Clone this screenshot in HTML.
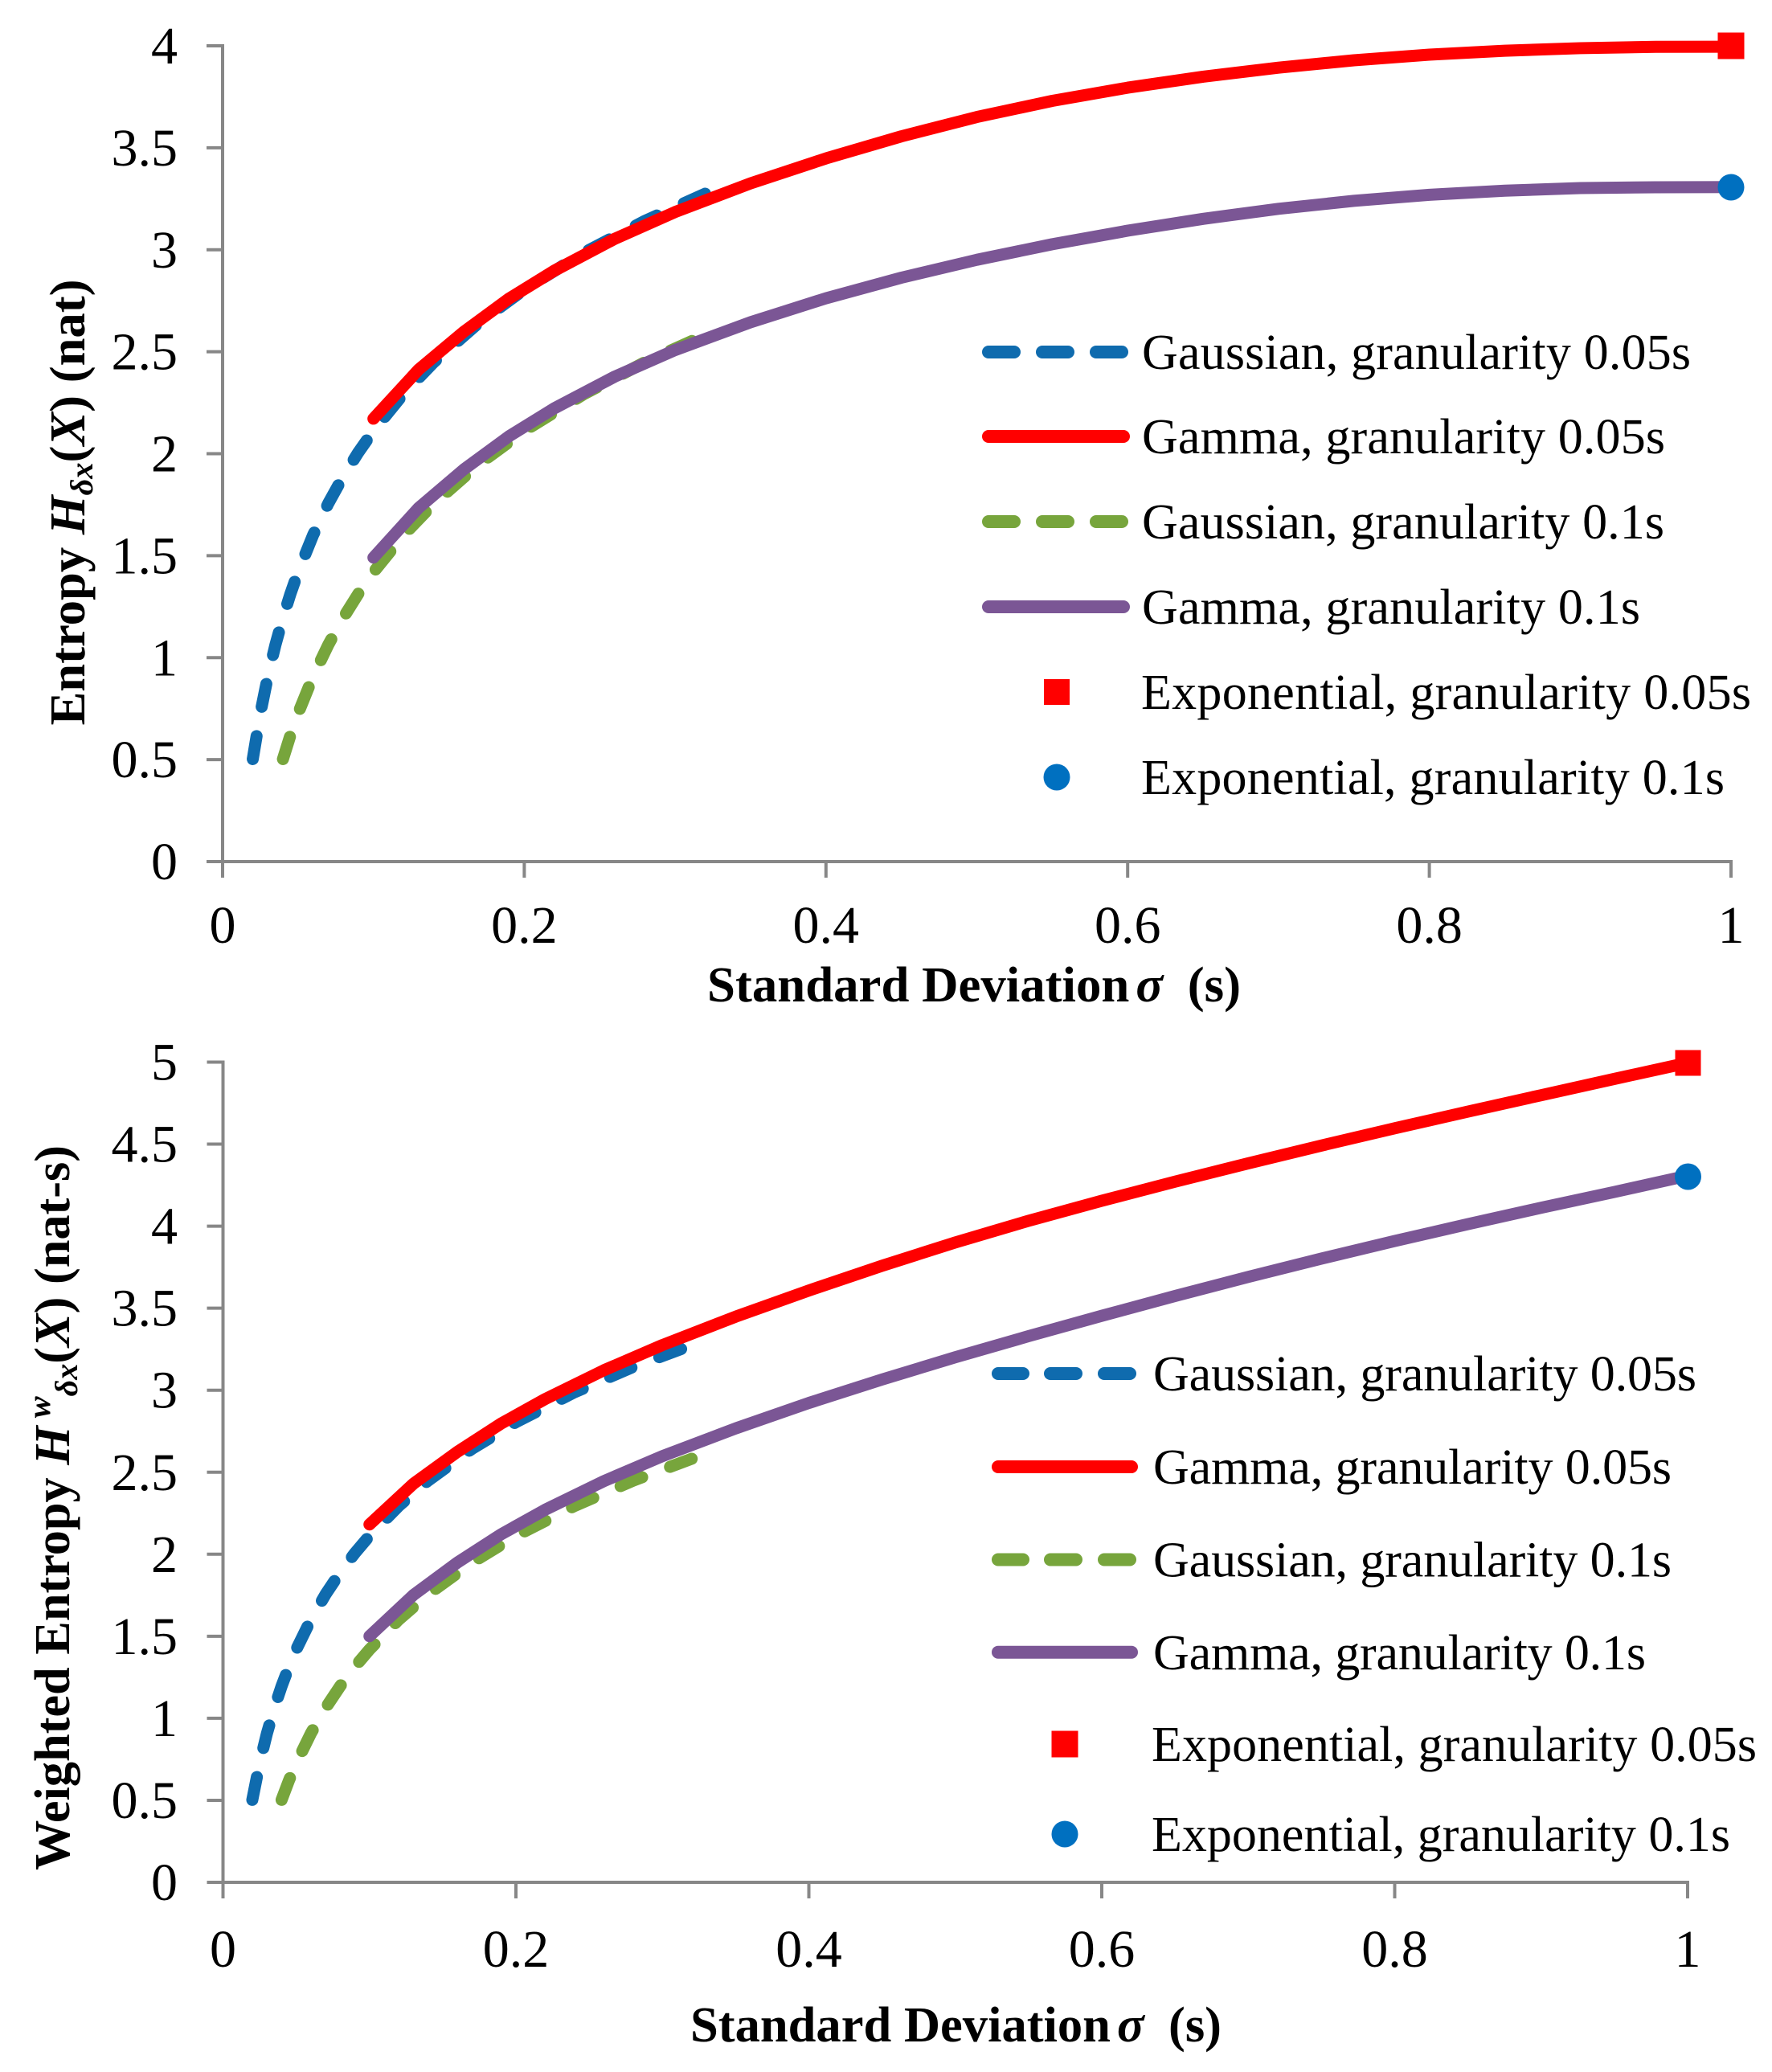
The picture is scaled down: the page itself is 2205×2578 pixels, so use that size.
<!DOCTYPE html>
<html>
<head>
<meta charset="utf-8">
<style>
html,body{margin:0;padding:0;background:#fff;}
svg{display:block;}
text{font-family:"Liberation Serif","DejaVu Serif",serif;fill:#000;}
.tk{font-size:66px;}
.lg{font-size:62px;}
.ti{font-size:62px;font-weight:bold;}
</style>
</head>
<body>
<svg xmlns="http://www.w3.org/2000/svg" width="2205" height="2578" viewBox="0 0 2205 2578">
<rect x="0" y="0" width="2205" height="2578" fill="#fff"/>

<!-- ================= TOP CHART ================= -->
<g stroke="#878787" stroke-width="4" fill="none">
  <line x1="277" y1="55" x2="277" y2="1074"/>
  <line x1="257" y1="1072" x2="2156" y2="1072"/>
  <line x1="257" y1="57" x2="277" y2="57"/>
  <line x1="257" y1="183.9" x2="277" y2="183.9"/>
  <line x1="257" y1="310.75" x2="277" y2="310.75"/>
  <line x1="257" y1="437.6" x2="277" y2="437.6"/>
  <line x1="257" y1="564.5" x2="277" y2="564.5"/>
  <line x1="257" y1="691.4" x2="277" y2="691.4"/>
  <line x1="257" y1="818.25" x2="277" y2="818.25"/>
  <line x1="257" y1="945.1" x2="277" y2="945.1"/>
  <line x1="277" y1="1072" x2="277" y2="1092"/>
  <line x1="652.4" y1="1072" x2="652.4" y2="1092"/>
  <line x1="1027.8" y1="1072" x2="1027.8" y2="1092"/>
  <line x1="1403.2" y1="1072" x2="1403.2" y2="1092"/>
  <line x1="1778.6" y1="1072" x2="1778.6" y2="1092"/>
  <line x1="2154" y1="1072" x2="2154" y2="1092"/>
</g>
<g class="tk" text-anchor="end">
  <text x="221" y="1094">0</text>
  <text x="221" y="967.1">0.5</text>
  <text x="221" y="840.25">1</text>
  <text x="221" y="713.4">1.5</text>
  <text x="221" y="586.5">2</text>
  <text x="221" y="459.6">2.5</text>
  <text x="221" y="332.75">3</text>
  <text x="221" y="205.9">3.5</text>
  <text x="221" y="79">4</text>
</g>
<g class="tk" text-anchor="middle">
  <text x="277" y="1173">0</text>
  <text x="652.4" y="1173">0.2</text>
  <text x="1027.8" y="1173">0.4</text>
  <text x="1403.2" y="1173">0.6</text>
  <text x="1778.6" y="1173">0.8</text>
  <text x="2154" y="1173">1</text>
</g>
<text class="ti" x="880" y="1246" textLength="664" lengthAdjust="spacingAndGlyphs">Standard Deviation<tspan font-style="italic" dx="8">σ</tspan><tspan dx="30">(s)</tspan></text>
<text class="ti" transform="translate(105,625) rotate(-90)" text-anchor="middle" textLength="555" lengthAdjust="spacingAndGlyphs">Entropy <tspan font-style="italic">H</tspan><tspan font-style="italic" font-size="40" dy="10">δx</tspan><tspan dy="-10">(</tspan><tspan font-style="italic">X</tspan>) (nat)</text>

<!-- top series -->
<g fill="none" stroke-linecap="round" stroke-linejoin="round">
  <polyline stroke="#0f6bae" stroke-width="15" stroke-dasharray="29 37" points="314.54,944.45 323.93,887.83 333.31,841.57 342.70,802.45 352.08,768.57 361.47,738.68 370.85,711.94 389.62,665.68 408.39,626.56 427.16,592.68 445.93,562.79 464.70,536.06 502.24,489.79 539.78,450.68 596.09,401.41 652.40,360.17 727.48,313.91 802.56,274.79 877.64,240.91"/>
  <polyline stroke="#ff0000" stroke-width="15" points="464.70,520.92 521.01,459.75 577.32,412.63 633.63,371.35 689.94,336.68 765.02,297.12 840.10,263.80 933.95,228.09 1027.80,197.10 1121.65,169.62 1215.50,145.60 1309.35,125.48 1403.20,109.10 1497.05,95.41 1590.90,84.19 1684.75,75.02 1778.60,68.01 1872.45,63.10 1966.30,59.94 2060.15,58.22 2154,58.08"/>
  <polyline stroke="#77a53c" stroke-width="15" stroke-dasharray="29 37" points="352.08,944.45 361.47,914.57 370.85,887.83 389.62,841.57 408.39,802.45 427.16,768.57 445.93,738.68 464.70,711.94 502.24,665.68 539.78,626.56 596.09,577.30 652.40,536.06 727.48,489.79 802.56,450.68 877.64,416.79"/>
  <polyline stroke="#7b5695" stroke-width="15" points="464.70,693.76 521.01,631.83 577.32,583.95 633.63,542.66 689.94,507.92 765.02,468.57 840.10,435.55 933.95,400.93 1027.80,371.09 1121.65,345.51 1215.50,323.26 1309.35,303.90 1403.20,287.02 1497.05,272.31 1590.90,259.82 1684.75,249.89 1778.60,242.38 1872.45,237.21 1966.30,234.05 2060.15,232.96 2154,232.70"/>
</g>
<rect x="2137.5" y="40.5" width="33" height="33" fill="#ff0000"/>
<circle cx="2154" cy="233" r="16.5" fill="#0070c0"/>

<!-- top legend -->
<g fill="none" stroke-linecap="round" stroke-width="16">
  <line x1="1230" y1="438" x2="1262" y2="438" stroke="#0f6bae"/>
  <line x1="1297" y1="438" x2="1329" y2="438" stroke="#0f6bae"/>
  <line x1="1364" y1="438" x2="1396" y2="438" stroke="#0f6bae"/>
  <line x1="1230" y1="543" x2="1398" y2="543" stroke="#ff0000"/>
  <line x1="1230" y1="649" x2="1262" y2="649" stroke="#77a53c"/>
  <line x1="1297" y1="649" x2="1329" y2="649" stroke="#77a53c"/>
  <line x1="1364" y1="649" x2="1396" y2="649" stroke="#77a53c"/>
  <line x1="1230" y1="755" x2="1398" y2="755" stroke="#7b5695"/>
</g>
<rect x="1299" y="845" width="32" height="32" fill="#ff0000"/>
<circle cx="1315" cy="967" r="16.5" fill="#0070c0"/>
<g class="lg">
  <text x="1421" y="459" textLength="683" lengthAdjust="spacing">Gaussian, granularity 0.05s</text>
  <text x="1421" y="564" textLength="651" lengthAdjust="spacing">Gamma, granularity 0.05s</text>
  <text x="1421" y="670" textLength="650" lengthAdjust="spacing">Gaussian, granularity 0.1s</text>
  <text x="1421" y="776" textLength="620" lengthAdjust="spacing">Gamma, granularity 0.1s</text>
  <text x="1420" y="882" textLength="759" lengthAdjust="spacing">Exponential, granularity 0.05s</text>
  <text x="1420" y="988" textLength="726" lengthAdjust="spacing">Exponential, granularity 0.1s</text>
</g>

<!-- ================= BOTTOM CHART ================= -->
<g stroke="#878787" stroke-width="4" fill="none">
  <line x1="277.5" y1="1319.5" x2="277.5" y2="2344"/>
  <line x1="257.5" y1="2342" x2="2102" y2="2342"/>
  <line x1="257.5" y1="1321.5" x2="277.5" y2="1321.5"/>
  <line x1="257.5" y1="1423.55" x2="277.5" y2="1423.55"/>
  <line x1="257.5" y1="1525.6" x2="277.5" y2="1525.6"/>
  <line x1="257.5" y1="1627.65" x2="277.5" y2="1627.65"/>
  <line x1="257.5" y1="1729.7" x2="277.5" y2="1729.7"/>
  <line x1="257.5" y1="1831.75" x2="277.5" y2="1831.75"/>
  <line x1="257.5" y1="1933.8" x2="277.5" y2="1933.8"/>
  <line x1="257.5" y1="2035.85" x2="277.5" y2="2035.85"/>
  <line x1="257.5" y1="2137.9" x2="277.5" y2="2137.9"/>
  <line x1="257.5" y1="2239.95" x2="277.5" y2="2239.95"/>
  <line x1="277.5" y1="2342" x2="277.5" y2="2362"/>
  <line x1="642" y1="2342" x2="642" y2="2362"/>
  <line x1="1006.5" y1="2342" x2="1006.5" y2="2362"/>
  <line x1="1371" y1="2342" x2="1371" y2="2362"/>
  <line x1="1735.5" y1="2342" x2="1735.5" y2="2362"/>
  <line x1="2100" y1="2342" x2="2100" y2="2362"/>
</g>
<g class="tk" text-anchor="end">
  <text x="221" y="2364">0</text>
  <text x="221" y="2261.95">0.5</text>
  <text x="221" y="2159.9">1</text>
  <text x="221" y="2057.85">1.5</text>
  <text x="221" y="1955.8">2</text>
  <text x="221" y="1853.75">2.5</text>
  <text x="221" y="1751.7">3</text>
  <text x="221" y="1649.65">3.5</text>
  <text x="221" y="1547.6">4</text>
  <text x="221" y="1445.55">4.5</text>
  <text x="221" y="1343.5">5</text>
</g>
<g class="tk" text-anchor="middle">
  <text x="277.5" y="2447">0</text>
  <text x="642" y="2447">0.2</text>
  <text x="1006.5" y="2447">0.4</text>
  <text x="1371" y="2447">0.6</text>
  <text x="1735.5" y="2447">0.8</text>
  <text x="2100" y="2447">1</text>
</g>
<text class="ti" x="859" y="2540" textLength="661" lengthAdjust="spacingAndGlyphs">Standard Deviation<tspan font-style="italic" dx="8">σ</tspan><tspan dx="30">(s)</tspan></text>
<text class="ti" transform="translate(86,1876) rotate(-90)" text-anchor="middle" textLength="902" lengthAdjust="spacingAndGlyphs">Weighted Entropy <tspan font-style="italic">H</tspan><tspan font-style="italic" font-size="40" dy="-24"> w</tspan><tspan font-style="italic" font-size="40" dy="34">δx</tspan><tspan dy="-10">(</tspan><tspan font-style="italic">X</tspan>) (nat-s)</text>

<!-- bottom series -->
<g fill="none" stroke-linecap="round" stroke-linejoin="round">
  <polyline stroke="#0f6bae" stroke-width="15" stroke-dasharray="29 37" points="313.95,2239.41 323.06,2193.87 332.18,2156.65 341.29,2125.19 350.40,2097.94 359.51,2073.90 368.63,2052.39 386.85,2015.18 405.08,1983.72 423.30,1956.47 441.53,1932.43 459.75,1910.92 496.20,1873.71 532.65,1842.25 587.33,1802.62 642.00,1769.45 714.90,1732.24 787.80,1700.78 860.70,1673.52"/>
  <polyline stroke="#ff0000" stroke-width="15" points="459.75,1896.71 514.43,1846.10 569.10,1806.42 623.78,1771.07 678.45,1740.68 751.35,1704.95 824.25,1673.57 915.38,1638.21 1006.50,1605.63 1097.63,1574.86 1188.75,1545.84 1279.88,1518.94 1371.00,1494.03 1462.13,1470.27 1553.25,1447.46 1644.38,1425.28 1735.50,1403.84 1826.63,1383.04 1917.75,1362.64 2008.88,1342.38 2100,1322.37"/>
  <polyline stroke="#77a53c" stroke-width="15" stroke-dasharray="29 37" points="350.40,2239.41 359.51,2215.37 368.63,2193.87 386.85,2156.65 405.08,2125.19 423.30,2097.94 441.53,2073.90 459.75,2052.39 496.20,2015.18 532.65,1983.72 587.33,1944.09 642.00,1910.92 714.90,1873.71 787.80,1842.25 860.70,1815.00"/>
  <polyline stroke="#7b5695" stroke-width="15" points="459.75,2035.73 514.43,1984.51 569.10,1944.22 623.78,1908.87 678.45,1878.41 751.35,1842.85 824.25,1811.71 915.38,1777.24 1006.50,1745.57 1097.63,1716.33 1188.75,1688.74 1279.88,1662.45 1371.00,1637.14 1462.13,1612.55 1553.25,1588.73 1644.38,1565.94 1735.50,1544.08 1826.63,1523.09 1917.75,1502.68 2008.88,1483.03 2100,1462.82"/>
</g>
<rect x="2084.5" y="1306.5" width="32" height="32" fill="#ff0000"/>
<circle cx="2100.5" cy="1464" r="16.5" fill="#0070c0"/>

<!-- bottom legend -->
<g fill="none" stroke-linecap="round" stroke-width="16">
  <line x1="1242" y1="1709" x2="1273" y2="1709" stroke="#0f6bae"/>
  <line x1="1307" y1="1709" x2="1339" y2="1709" stroke="#0f6bae"/>
  <line x1="1374" y1="1709" x2="1406" y2="1709" stroke="#0f6bae"/>
  <line x1="1242" y1="1825" x2="1408" y2="1825" stroke="#ff0000"/>
  <line x1="1242" y1="1940.5" x2="1273" y2="1940.5" stroke="#77a53c"/>
  <line x1="1307" y1="1940.5" x2="1339" y2="1940.5" stroke="#77a53c"/>
  <line x1="1374" y1="1940.5" x2="1406" y2="1940.5" stroke="#77a53c"/>
  <line x1="1242" y1="2055.7" x2="1408" y2="2055.7" stroke="#7b5695"/>
</g>
<rect x="1308.5" y="2153.5" width="33" height="33" fill="#ff0000"/>
<circle cx="1325" cy="2282" r="16.5" fill="#0070c0"/>
<g class="lg">
  <text x="1435" y="1730" textLength="676" lengthAdjust="spacing">Gaussian, granularity 0.05s</text>
  <text x="1435" y="1846" textLength="645" lengthAdjust="spacing">Gamma, granularity 0.05s</text>
  <text x="1435" y="1961.5" textLength="645" lengthAdjust="spacing">Gaussian, granularity 0.1s</text>
  <text x="1435" y="2077" textLength="613" lengthAdjust="spacing">Gamma, granularity 0.1s</text>
  <text x="1433" y="2191" textLength="753" lengthAdjust="spacing">Exponential, granularity 0.05s</text>
  <text x="1433" y="2303" textLength="720" lengthAdjust="spacing">Exponential, granularity 0.1s</text>
</g>
</svg>
</body>
</html>
